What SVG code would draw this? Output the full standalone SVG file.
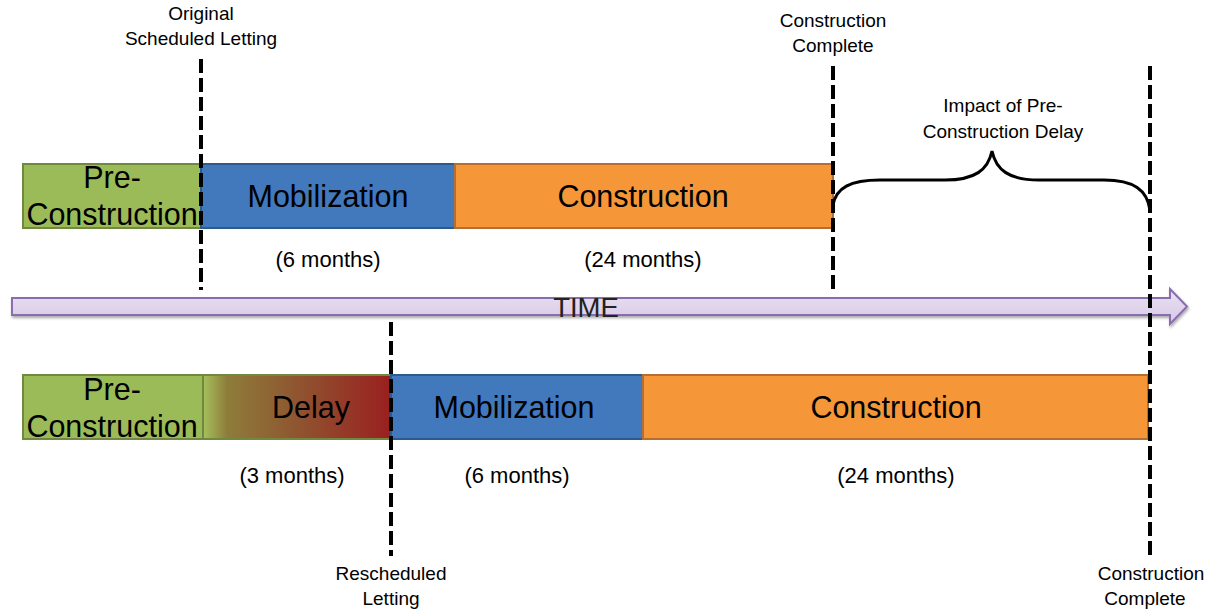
<svg xmlns="http://www.w3.org/2000/svg" width="1212" height="611" viewBox="0 0 1212 611">
<style>
text{font-family:"Liberation Sans",Arial,sans-serif;fill:#000;text-anchor:middle}
.big{font-size:30.5px}
.lbl{font-size:19px}
.dur{font-size:22px}
.green{fill:#9BBB59;stroke:#71893F;stroke-width:2}
.blue{fill:#4279BD;stroke:#2C5A8C;stroke-width:2}
.orange{fill:#F59638;stroke:#B66D31;stroke-width:2}
.dash{stroke:#000;stroke-width:4;stroke-dasharray:14 5;fill:none}
</style>
<defs>
<linearGradient id="delayGrad" x1="0" y1="0" x2="1" y2="0">
<stop offset="0" stop-color="#A6C05C"/>
<stop offset="0.13" stop-color="#8E7C3A"/>
<stop offset="0.5" stop-color="#8F5530"/>
<stop offset="1" stop-color="#9A1F20"/>
</linearGradient>
<linearGradient id="arrowGrad" x1="0" y1="0" x2="0" y2="1">
<stop offset="0" stop-color="#EAE1F2"/>
<stop offset="1" stop-color="#D6C9E5"/>
</linearGradient>
<filter id="shadow" x="-5%" y="-50%" width="110%" height="200%">
<feGaussianBlur in="SourceAlpha" stdDeviation="1.5"/>
<feOffset dx="1" dy="2" result="b"/>
<feComponentTransfer><feFuncA type="linear" slope="0.35"/></feComponentTransfer>
<feMerge><feMergeNode/><feMergeNode in="SourceGraphic"/></feMerge>
</filter>
</defs>

<g id="time-arrow">
<path d="M12,298 H1170 V289 L1187,306.5 L1170,324 V315 H12 Z" fill="url(#arrowGrad)" stroke="#8A6DAE" stroke-width="2" filter="url(#shadow)"/>
<text x="586" y="317" style="font-size:27.5px;fill:#222">TIME</text>
</g>

<g id="top-preconstruction">
<rect class="green" x="23" y="164" width="178" height="64"/>
<text class="big" x="112" y="188">Pre-</text>
<text class="big" x="112" y="225">Construction</text>
</g>
<g id="top-mobilization">
<rect class="blue" x="201" y="164" width="254" height="64"/>
<text class="big" x="328" y="207">Mobilization</text>
<text class="dur" x="328" y="267">(6 months)</text>
</g>
<g id="top-construction">
<rect class="orange" x="455" y="164" width="378" height="64"/>
<text class="big" x="643" y="207">Construction</text>
<text class="dur" x="643" y="267">(24 months)</text>
</g>

<g id="bottom-preconstruction">
<rect class="green" x="23" y="375" width="180" height="64"/>
<text class="big" x="112" y="400">Pre-</text>
<text class="big" x="112" y="437">Construction</text>
</g>
<g id="bottom-delay">
<rect x="203" y="375" width="188" height="64" fill="url(#delayGrad)" stroke="#71893F" stroke-width="2"/>
<text class="big" x="311" y="418">Delay</text>
<text class="dur" x="292" y="483">(3 months)</text>
</g>
<g id="bottom-mobilization">
<rect class="blue" x="391" y="375" width="252" height="64"/>
<text class="big" x="514" y="418">Mobilization</text>
<text class="dur" x="517" y="483">(6 months)</text>
</g>
<g id="bottom-construction">
<rect class="orange" x="643" y="375" width="505" height="64"/>
<text class="big" x="896" y="418">Construction</text>
<text class="dur" x="896" y="483">(24 months)</text>
</g>

<g id="connectors">
<line class="dash" x1="201" y1="59" x2="201" y2="290"/>
<line class="dash" x1="833" y1="66" x2="833" y2="292"/>
<line class="dash" x1="1150" y1="66" x2="1150" y2="556"/>
<line class="dash" x1="391" y1="322" x2="391" y2="556"/>
<path d="M833,205 C836,188 850,180 880,180 H945 C975,180 988,170 992,151 C996,170 1009,180 1039,180 H1104 C1134,180 1147,190 1150,210" fill="none" stroke="#000" stroke-width="3"/>
</g>

<g id="label-original">
<text class="lbl" x="201" y="20">Original</text>
<text class="lbl" x="201" y="45">Scheduled Letting</text>
</g>
<g id="label-complete-top">
<text class="lbl" x="833" y="27">Construction</text>
<text class="lbl" x="833" y="52">Complete</text>
</g>
<g id="label-impact">
<text class="lbl" x="1003" y="112">Impact of Pre-</text>
<text class="lbl" x="1003" y="138">Construction Delay</text>
</g>
<g id="label-rescheduled">
<text class="lbl" x="391" y="580">Rescheduled</text>
<text class="lbl" x="391" y="605">Letting</text>
</g>
<g id="label-complete-bottom">
<text class="lbl" x="1151" y="580">Construction</text>
<text class="lbl" x="1145" y="605">Complete</text>
</g>
</svg>
